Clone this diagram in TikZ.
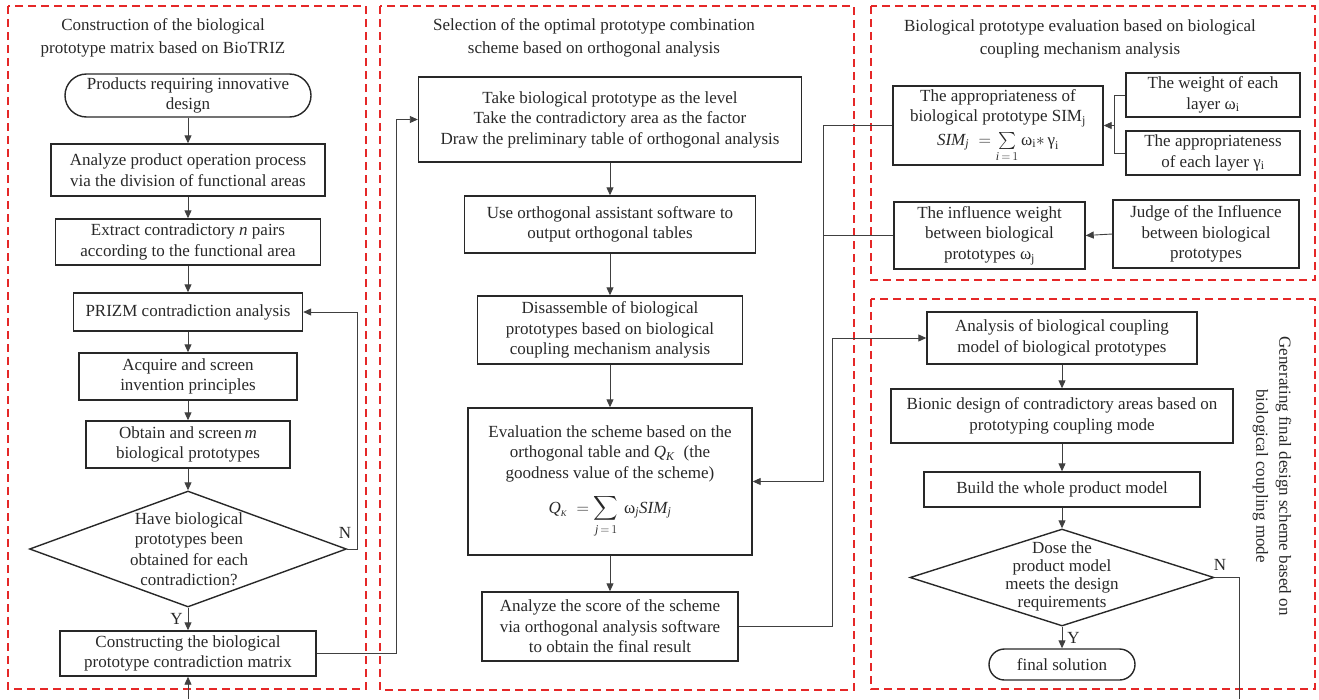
\documentclass[tikz,border=0pt]{standalone}
\usepackage{amsmath,amssymb}
\usepackage{fontspec}
\setmainfont{Liberation Serif}
\usepackage{tikz}
\usetikzlibrary{arrows.meta}
\usetikzlibrary{shapes}

\definecolor{dashred}{RGB}{229,40,40}
\definecolor{inkgray}{RGB}{40,40,40}

\tikzset{
  panel/.style={draw=dashred, line width=2pt, dash pattern=on 8pt off 5pt},
  heading/.style={align=center, text=inkgray, inner sep=0pt, font=\fontsize{17}{23}\selectfont},
  proc/.style={draw=inkgray, line width=1.4pt, align=center, inner sep=0pt, text=inkgray, font=\fontsize{17}{20.5}\selectfont},
  term/.style={proc, rounded corners=#1},
  decide/.style={draw=inkgray, line width=1.4pt, diamond, inner sep=0pt},
  plain/.style={align=center, text=inkgray, inner sep=0pt, font=\fontsize{17}{20.5}\selectfont},
  link/.style={draw=black!75, line width=0.9pt},
  arr/.style={link, -{Triangle[length=8pt,width=7pt]}},
}
\newcommand{\procbox}[6]{\node[proc, minimum width=#4pt, minimum height=#5pt] (#1) at (#2,#3) {#6};}
\newcommand{\panelbox}[4]{\draw[panel] ( #1 , #2 ) rectangle ( #3 , #4 );}

\begin{document}
\begin{tikzpicture}[x=1pt, y=-1pt]
\useasboundingbox (0,0) rectangle (1319,699);

% dashed panels
\panelbox{8}{6}{366}{689}
\panelbox{380}{6}{854}{690}
\panelbox{871}{6}{1315}{280}
\panelbox{871}{299}{1315}{689}

% left panel
\node[heading] (h1) at (163,38) {Construction of the biological\\prototype matrix based on BioTRIZ};
\node[term=21.5pt, minimum width=246pt, minimum height=43pt] (start) at (188,95.5) {Products requiring innovative\\design};
\procbox{divide}{188}{170}{274}{52}{Analyze product operation process\\via the division of functional areas}
\procbox{pairs}{188}{242}{265}{46}{Extract contradictory \textit{n} pairs\\according to the functional area}
\procbox{prizm}{188}{312}{229}{38}{PRIZM contradiction analysis}
\procbox{principle}{188}{376.5}{218}{47}{Acquire and screen\\invention principles}
\procbox{screen}{188}{444.5}{204}{47}{Obtain and screen\,\textit{m}\\biological prototypes}
\node[decide, minimum width=317pt, minimum height=116pt] (check) at (188,549) {};
\node[plain] (checktxt) at (189,549) {Have biological\\prototypes been\\obtained for each\\contradiction?};
\procbox{matrix}{188}{653.5}{256}{45}{Constructing the biological\\prototype contradiction matrix}
\node[plain] (nleft) at (345,533) {N};

% middle panel
\node[heading] (h2) at (594,38) {Selection of the optimal prototype combination\\scheme based on orthogonal analysis};
\procbox{level}{610}{119.5}{383}{85}{Take biological prototype as the level\\Take the contradictory area as the factor\\Draw the preliminary table of orthogonal analysis}
\procbox{software}{610}{224.5}{291}{57}{Use orthogonal assistant software to\\output orthogonal tables}
\procbox{disassemble}{610}{330}{265}{68}{Disassemble of biological\\prototypes based on biological\\coupling mechanism analysis}
\procbox{evaluate}{610}{481.5}{284}{147}{Evaluation the scheme based on the\\orthogonal table and \textit{Q}\textsubscript{\textit{K}}\ \ (the\\goodness value of the scheme)\\[12pt]$\displaystyle \textit{Q}_{\scriptscriptstyle\textit{K}}\;=\sum_{\textit{j}\,=\,1}\,\text{ω}_{\textit{j}}\textit{SIM}_{\textit{j}}$}
\procbox{score}{610}{626.5}{256}{69}{Analyze the score of the scheme\\via orthogonal analysis software\\to obtain the final result}

% top right panel
\node[heading] (h3) at (1080,39) {Biological prototype evaluation based on biological\\coupling mechanism analysis};
\procbox{sim}{998}{125.5}{210}{79}{The appropriateness of\\biological prototype SIM\textsubscript{j}\\[3pt]$\textit{SIM}_{\textit{j}}\;=\sum\limits_{\textit{i}\,=\,1}\text{ω}_{\mathrm{i}}{*}\,\text{γ}_{\mathrm{i}}$}
\procbox{layerw}{1213}{95}{174}{44}{The weight of each\\layer ω\textsubscript{i}}
\procbox{layerg}{1213}{153}{174}{44}{The appropriateness\\of each layer γ\textsubscript{i}}
\procbox{influence}{989.5}{235.5}{191}{67}{The influence weight\\between biological\\prototypes ω\textsubscript{j}}
\procbox{judge}{1206}{234}{186}{68}{Judge of the Influence\\between biological\\prototypes}

% bottom right panel
\procbox{coupling}{1062}{338}{270}{52}{Analysis of biological coupling\\model of biological prototypes}
\procbox{bionic}{1062}{416}{342}{54}{Bionic design of contradictory areas based on\\prototyping coupling mode}
\procbox{whole}{1062}{489.5}{276}{35}{Build the whole product model}
\node[decide, minimum width=304pt, minimum height=97pt] (meets) at (1062,577.5) {};
\node[plain, font=\fontsize{17}{18}\selectfont] (meetstxt) at (1062,576) {Dose the\\product model\\meets the design\\requirements};
\node[term=15.5pt, minimum width=146pt, minimum height=31pt] (final) at (1062,664.5) {final solution};
\node[plain] (nright) at (1220,565) {N};
\node[heading, rotate=-90] (h4) at (1272,476) {Generating final design scheme based on\\biological coupling mode};

% connectors, left
\draw[arr] (start) -- (divide);
\draw[arr] (divide) -- (pairs);
\draw[arr] (pairs) -- (prizm);
\draw[arr] (prizm) -- (principle);
\draw[arr] (principle) -- (screen);
\draw[arr] (screen) -- (check.north);
\draw[arr] (check.south) -- node[plain, left=5pt] {Y} (matrix);
\draw[arr] (check.east) -- ++(10,0) |- (prizm.east);
\draw[arr] (matrix.east) -- ++(80,0) |- (level.west);
\coordinate (below1) at (188,699);
\draw[arr] (below1) -- (matrix.south);

% connectors, middle
\draw[arr] (level) -- (software);
\draw[arr] (software) -- (disassemble);
\draw[arr] (disassemble) -- (evaluate);
\draw[arr] (evaluate) -- (score);
\draw[arr] (score.east) -- ++(94,0) |- (coupling.west);
\coordinate (bus) at (823,0);
\draw[link] (sim.west) -- (sim.west -| bus) -- (influence.west -| bus);
\draw[arr] (influence.west) -- (influence.west -| bus) |- (evaluate.east);

% connectors, top right
\coordinate (fork) at (1114,0);
\draw[link] (layerw.west) -- (layerw.west -| fork) -- (layerg.west -| fork) -- (layerg.west);
\draw[arr] (sim.east -| fork) -- (sim.east);
\draw[arr] (judge.west) -- (influence.east);

% connectors, bottom right
\draw[arr] (coupling) -- (bionic);
\draw[arr] (bionic) -- (whole);
\draw[arr] (whole) -- (meets.north);
\draw[arr] (meets.south) -- node[plain, right=5pt] {Y} (final);
\coordinate (below2) at (1239,699);
\draw[link] (meets.east) -- (meets.east -| below2) -- (below2);
\end{tikzpicture}
\end{document}
